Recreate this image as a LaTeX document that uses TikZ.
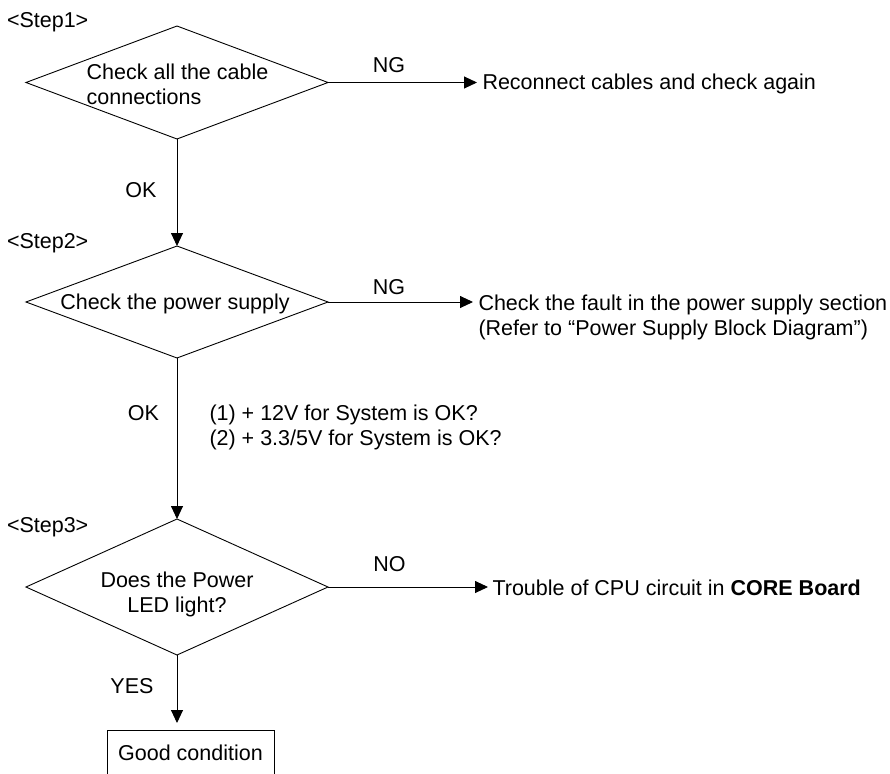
\documentclass[tikz,border=0pt]{standalone}
\usepackage{fontspec}
\setmainfont{Liberation Sans}
\usetikzlibrary{shapes.geometric,arrows.meta}
\begin{document}
\begin{tikzpicture}[x=1pt,y=-1pt,
  every node/.style={font=\fontsize{21.5}{25}\selectfont, inner sep=0pt, outer sep=0pt},
  line/.style={line width=0.9pt},
  arr/.style={line width=0.9pt, -{Triangle[length=13pt,width=12pt]}},
  dia/.style={diamond, draw, line width=0.9pt, inner sep=0pt, outer sep=0pt},
  gbox/.style={rectangle, draw, line width=0.9pt, minimum width=167pt, minimum height=46pt}
]
\useasboundingbox (0,0) rectangle (890,773);

% step labels
\node[anchor=base west] (s1) at (7,27.5) {<Step1>};
\node[anchor=base west] (s2) at (7,248.5) {<Step2>};
\node[anchor=base west] (s3) at (7,532.5) {<Step3>};

% diamonds
\node[dia, minimum width=302pt, minimum height=113pt] (d1) at (177,82.5) {};
\node[align=left] (d1t) at (177.5,84.4) {Check all the cable\\connections};

\node[dia, minimum width=302pt, minimum height=112pt] (d2) at (177,302) {};
\node (d2t) at (175,304) {Check the power supply};

\node[dia, minimum width=302pt, minimum height=136pt] (d3) at (177,587) {};
\node[align=center] (d3t) at (177,594) {Does the Power\\LED light?};

% result texts
\node[anchor=base west] (r1) at (482.5,89.5) {Reconnect cables and check again};
\node[anchor=north west, align=left] (r2) at (478.5,294.5) {Check the fault in the power supply section\\(Refer to “Power Supply Block Diagram”)};
\node[anchor=base west] (r3) at (492.5,595.5) {Trouble of CPU circuit in \textbf{CORE Board}};

% final box
\begin{scope}
\clip (0,0) rectangle (890,773);
\node[gbox] (g) at (190.5,753) {Good condition};
\end{scope}

% branch labels
\node[anchor=base] (ng1) at (389,72.5) {NG};
\node[anchor=base] (ng2) at (389,294) {NG};
\node[anchor=base] (no3) at (389.5,571.5) {NO};
\node[anchor=base] (ok1) at (141,197.5) {OK};
\node[anchor=base] (ok2) at (143.5,420.5) {OK};
\node[anchor=base] (yes) at (132,693.5) {YES};
\node[anchor=north west, align=left] (cond) at (209.5,405) {(1) + 12V for System is OK?\\(2) + 3.3/5V for System is OK?};

% connectors
\draw[arr, shorten >=5.5pt] (d1.east) -- (d1.east -| r1.west);
\draw[arr, shorten >=5.5pt] (d2.east) -- (d2.east -| r2.west);
\draw[arr, shorten >=4.5pt] (d3.east) -- (d3.east -| r3.west);
\draw[arr] (d1.south) -- (d2.north);
\draw[arr] (d2.south) -- (d3.north);
\draw[arr, shorten >=7pt] (d3.south) -- (d3.south |- g.north);
\end{tikzpicture}
\end{document}
